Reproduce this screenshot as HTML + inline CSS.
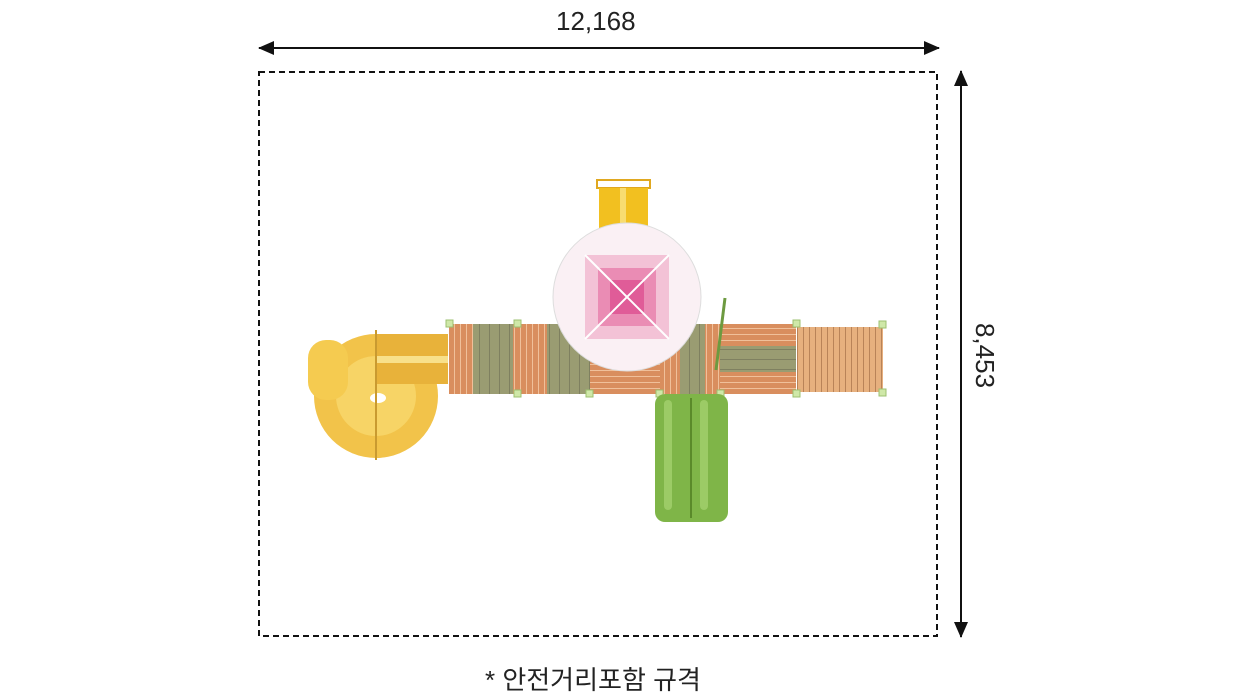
<!DOCTYPE html>
<html><head><meta charset="utf-8"><style>
body{margin:0;background:#fff;width:1256px;height:700px;overflow:hidden;position:relative;font-family:"Liberation Sans","Noto Sans CJK KR",sans-serif}
.t{position:absolute;font-size:26px;color:#222}
</style></head><body>
<svg width="1256" height="700" style="position:absolute;left:0;top:0">
<defs>
<marker id="a" markerWidth="16" markerHeight="14" refX="15" refY="7" orient="auto-start-reverse" markerUnits="userSpaceOnUse"><path d="M0,0 L16,7 L0,14z" fill="#111"/></marker>
<pattern id="wv" width="6" height="10" patternUnits="userSpaceOnUse"><rect width="6" height="10" fill="#d98e5e"/><rect x="4" width="1" height="10" fill="#f0c09a"/></pattern>
<pattern id="wh" width="10" height="6" patternUnits="userSpaceOnUse"><rect width="10" height="6" fill="#d98e5e"/><rect y="4" width="10" height="1" fill="#f0c09a"/></pattern>
<pattern id="gv" width="10" height="10" patternUnits="userSpaceOnUse"><rect width="10" height="10" fill="#9a9c72"/><rect x="9" width="1" height="10" fill="#7f8060"/></pattern>
<pattern id="gh" width="10" height="10" patternUnits="userSpaceOnUse"><rect width="10" height="10" fill="#9a9c72"/><rect y="9" width="10" height="1" fill="#7f8060"/></pattern>
<pattern id="lv" width="6" height="10" patternUnits="userSpaceOnUse"><rect width="6" height="10" fill="#e7b07e"/><rect x="5" width="1" height="10" fill="#b98358"/></pattern>
</defs>
<line x1="259" y1="48" x2="939" y2="48" stroke="#111" stroke-width="2" marker-start="url(#a)" marker-end="url(#a)"/>
<line x1="961" y1="71" x2="961" y2="637" stroke="#111" stroke-width="2" marker-start="url(#a)" marker-end="url(#a)"/>
<rect x="259" y="72" width="678" height="564" fill="none" stroke="#111" stroke-width="2" stroke-dasharray="6,4"/>
<circle cx="376" cy="396" r="62" fill="#f2c34a"/>
<circle cx="376" cy="396" r="40" fill="#f7d466"/>
<rect x="308" y="340" width="40" height="60" rx="18" fill="#f5cb50"/>
<rect x="376" y="334" width="72" height="50" fill="#e8b23a"/>
<rect x="376" y="356" width="72" height="7" fill="#f8e08a"/>
<ellipse cx="378" cy="398" rx="8" ry="5" fill="#fff"/>
<line x1="376" y1="330" x2="376" y2="460" stroke="#c99a30" stroke-width="2"/>
<rect x="449" y="324" width="24" height="70" fill="url(#wv)"/>
<rect x="473" y="324" width="40" height="70" fill="url(#gv)"/>
<rect x="513" y="324" width="10" height="70" fill="url(#wv)"/>
<rect x="517" y="324" width="30" height="70" fill="url(#wv)"/>
<rect x="547" y="324" width="43" height="70" fill="url(#gv)"/>
<rect x="590" y="324" width="70" height="35" fill="url(#gh)"/>
<rect x="590" y="359" width="70" height="35" fill="url(#wh)"/>
<rect x="660" y="324" width="20" height="70" fill="url(#wv)"/>
<rect x="680" y="324" width="25" height="70" fill="url(#gv)"/>
<rect x="705" y="324" width="15" height="70" fill="url(#wv)"/>
<rect x="720" y="324" width="76" height="22" fill="url(#wh)"/>
<rect x="720" y="346" width="76" height="26" fill="url(#gh)"/>
<rect x="720" y="372" width="76" height="22" fill="url(#wh)"/>
<rect x="797" y="327" width="86" height="65" fill="url(#lv)"/>
<g fill="#cfe8a8" stroke="#9cc070"><rect x="446" y="320" width="7" height="7"/><rect x="514" y="320" width="7" height="7"/><rect x="793" y="320" width="7" height="7"/><rect x="879" y="321" width="7" height="7"/><rect x="514" y="390" width="7" height="7"/><rect x="586" y="390" width="7" height="7"/><rect x="656" y="390" width="7" height="7"/><rect x="717" y="390" width="7" height="7"/><rect x="793" y="390" width="7" height="7"/><rect x="879" y="389" width="7" height="7"/></g>
<line x1="725" y1="298" x2="716" y2="370" stroke="#6d9a40" stroke-width="3"/>
<rect x="655" y="394" width="73" height="128" rx="10" fill="#7fb548"/>
<line x1="691" y1="398" x2="691" y2="518" stroke="#5a8a2a" stroke-width="2"/>
<rect x="664" y="400" width="8" height="110" rx="4" fill="#9ccb66"/>
<rect x="700" y="400" width="8" height="110" rx="4" fill="#9ccb66"/>
<rect x="597" y="180" width="53" height="8" fill="none" stroke="#e0a820" stroke-width="2"/>
<rect x="599" y="188" width="49" height="40" fill="#f2c020"/>
<rect x="620" y="188" width="6" height="40" fill="#f8dc70"/>
<circle cx="627" cy="297" r="74" fill="#faf0f4" stroke="#ddd"/>
<rect x="585" y="255" width="84" height="84" fill="#f3c2d6"/>
<rect x="598" y="268" width="58" height="58" fill="#ea8cb4"/>
<rect x="610" y="280" width="34" height="34" fill="#e05c98"/>
<line x1="585" y1="255" x2="669" y2="339" stroke="#fff" stroke-width="2"/>
<line x1="669" y1="255" x2="585" y2="339" stroke="#fff" stroke-width="2"/>
</svg>
<div class="t" style="left:556px;top:6px">12,168</div>
<div class="t" style="left:952px;top:340px;transform:rotate(90deg);transform-origin:center">8,453</div>
<div class="t" style="left:485px;top:660px">* 안전거리포함 규격</div>
</body></html>
